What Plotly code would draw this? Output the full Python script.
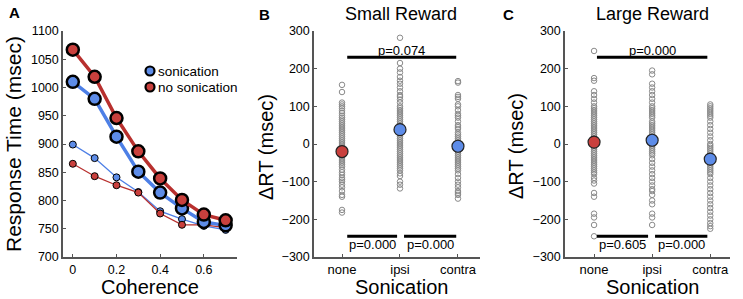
import plotly.graph_objects as go

FONT = "Liberation Sans, Arial, Helvetica, sans-serif"
RED = "#b8302e"
RED_FILL = "#c9403d"
BLUE = "#4d7fe6"
BLUE_FILL = "#5d8ce8"
GRAY = "#8a8a8a"
AX = "#555555"

# ---------------- Panel A data ----------------
coherence = [0, 0.1, 0.2, 0.3, 0.4, 0.5, 0.6, 0.7]
son_large = [1010, 980, 913, 851, 814, 786, 762, 756]
noson_large = [1067, 1019, 946, 887, 839, 801, 775, 765]
son_small = [899, 875, 841, 815, 781, 767, 755, 748]
noson_small = [865, 843, 827, 814, 777, 757, 757, 752]
legend_labels = ["sonication", "no sonication"]

# ---------------- Panels B / C data ----------------
categories = ["none", "ipsi", "contra"]
cat_pos = [1, 2, 3]

small_none = [157, 138, 110, 105, 100, 95, 88, 82, 75, 70, 65, 60, 55, 50, 45, 40, 35, 30, 25, 20,
              15, 10, 5, 0, -5, -10, -15, -20, -25, -30, -35, -40, -45, -50, -55, -60, -68, -75,
              -82, -90, -95, -100, -108, -115, -125, -135, -140, -175, -182]
small_ipsi = [282, 215, 200, 190, 178, 168, 160, 150, 140, 130, 125, 118, 110, 100, 95, 90, 85, 80,
              75, 70, 65, 60, 55, 50, 45, 40, 35, 30, 25, 20, 15, 10, 5, 0, -5, -10, -15, -20, -25,
              -30, -35, -40, -45, -50, -55, -60, -65, -70, -78, -85, -100, -108, -118]
small_contra = [167, 163, 130, 125, 120, 105, 100, 90, 80, 75, 70, 60, 50, 45, 40, 30, 25, 20, 15,
                10, 5, 0, -5, -10, -15, -20, -25, -30, -35, -40, -45, -50, -55, -60, -65, -70, -80,
                -90, -100, -108, -115, -125, -130, -135, -145]
small_means = [-20, 38, -6]

large_none = [247, 175, 168, 140, 130, 120, 110, 100, 95, 90, 85, 80, 75, 70, 65, 60, 55, 50, 45,
              40, 35, 30, 25, 20, 15, 10, 5, 0, -5, -10, -15, -20, -25, -30, -35, -40, -45, -50,
              -55, -60, -65, -70, -75, -80, -90, -97, -105, -130, -140, -185, -195, -215, -245]
large_ipsi = [195, 185, 160, 150, 140, 130, 120, 110, 100, 95, 90, 85, 80, 75, 70, 60, 55, 50, 45,
              40, 35, 30, 25, 20, 15, 10, 5, 0, -5, -10, -15, -20, -25, -30, -40, -50, -60, -70,
              -80, -90, -100, -110, -120, -125, -135, -150, -160, -185, -195, -215]
large_contra = [105, 100, 95, 90, 85, 80, 75, 70, 60, 50, 40, 30, 20, 10, 0, -5, -10, -15, -20,
                -25, -30, -35, -40, -45, -50, -55, -60, -65, -70, -75, -80, -90, -100, -110, -120,
                -130, -140, -150, -160, -170, -180, -190, -200, -210, -218, -225]
large_means = [5, 10, -40]
mean_colors = [RED_FILL, BLUE_FILL, BLUE_FILL]

# significance: (x0, x1, y, label, side)
small_sig = [(1.09, 2.97, 230, "p=0.074", "top"), (1.09, 1.95, -245, "p=0.000", "bottom"),
             (2.07, 2.97, -245, "p=0.000", "bottom")]
large_sig = [(1.05, 2.95, 230, "p=0.000", "top"), (1.05, 1.93, -245, "p=0.605", "bottom"),
             (2.05, 2.95, -245, "p=0.000", "bottom")]

W, H = 743, 299
def px(x):
    return x / W
def py(y):
    return 1 - y / H

fig = go.Figure()

# Panel A traces
fig.add_trace(go.Scatter(x=coherence, y=son_small, mode="lines+markers", showlegend=False,
                         line=dict(color=BLUE, width=1.3),
                         marker=dict(size=7, color=BLUE_FILL, line=dict(color="black", width=1)),
                         xaxis="x", yaxis="y"))
fig.add_trace(go.Scatter(x=coherence, y=noson_small, mode="lines+markers", showlegend=False,
                         line=dict(color=RED, width=1.3),
                         marker=dict(size=7, color=RED_FILL, line=dict(color="black", width=1)),
                         xaxis="x", yaxis="y"))
fig.add_trace(go.Scatter(x=coherence, y=son_large, mode="lines+markers", showlegend=False,
                         line=dict(color=BLUE, width=3.5),
                         marker=dict(size=12, color=BLUE_FILL, line=dict(color="black", width=2.5)),
                         xaxis="x", yaxis="y"))
fig.add_trace(go.Scatter(x=coherence, y=noson_large, mode="lines+markers", showlegend=False,
                         line=dict(color=RED, width=3.5),
                         marker=dict(size=12, color=RED_FILL, line=dict(color="black", width=2.5)),
                         xaxis="x", yaxis="y"))

# legend drawn as decorations (marker right next to text, MATLAB style)
for i, (lab, col) in enumerate(zip(legend_labels, [BLUE_FILL, RED_FILL])):
    cy = 71 + 16 * i
    fig.add_shape(type="circle", xref="paper", yref="paper",
                  x0=px(145.5), x1=px(154.5), y0=py(cy + 4.5), y1=py(cy - 4.5),
                  fillcolor=col, line=dict(color="black", width=2.2))
    fig.add_annotation(x=px(156), y=py(cy), xref="paper", yref="paper", text=lab,
                       showarrow=False, xanchor="left", yanchor="middle",
                       font=dict(size=13.5, family=FONT, color="black"))

def add_panel(xa, ya, groups, means, sigs):
    for pos, vals in zip(cat_pos, groups):
        fig.add_trace(go.Scatter(x=[pos] * len(vals), y=vals, mode="markers", showlegend=False,
                                 marker=dict(size=5.5, color="rgba(0,0,0,0)",
                                             line=dict(color=GRAY, width=1)),
                                 xaxis=xa, yaxis=ya))
    fig.add_trace(go.Scatter(x=cat_pos, y=means, mode="markers", showlegend=False,
                             marker=dict(size=12, color=mean_colors,
                                         line=dict(color="#222222", width=1.2)),
                             xaxis=xa, yaxis=ya))
    for x0, x1, yv, lab, where in sigs:
        fig.add_shape(type="line", x0=x0, x1=x1, y0=yv, y1=yv, xref=xa, yref=ya,
                      line=dict(color="black", width=3))
        fig.add_annotation(x=(x0 + x1) / 2, y=yv, xref=xa, yref=ya, text=lab, showarrow=False,
                           yanchor="bottom" if where == "top" else "top",
                           yshift=-3 if where == "top" else 1,
                           font=dict(size=13, color="black", family=FONT))

add_panel("x2", "y2", [small_none, small_ipsi, small_contra], small_means, small_sig)
add_panel("x3", "y3", [large_none, large_ipsi, large_contra], large_means, large_sig)

ydom = [py(257), py(31)]
axis_common = dict(showline=True, linecolor=AX, linewidth=1.5, showgrid=False, zeroline=False,
                   ticks="inside", ticklen=3, tickcolor=AX, automargin=False)
num_font = dict(size=12.5, color="black", family=FONT)
cat_font = dict(size=13, color="black", family=FONT)
dticks = ["\u2212300", "\u2212200", "\u2212100", "0", "100", "200", "300"]

fig.update_layout(
    width=W, height=H, margin=dict(l=0, r=0, t=0, b=0, pad=0, autoexpand=False),
    paper_bgcolor="white", plot_bgcolor="white", showlegend=False,
    font=dict(family=FONT, color="black"),
    xaxis=dict(domain=[px(63), px(237)], range=[-0.045, 0.752], tickvals=[0, 0.2, 0.4, 0.6],
               ticktext=["0", "0.2", "0.4", "0.6"], anchor="y", tickfont=num_font, **axis_common),
    yaxis=dict(domain=ydom, range=[700, 1100], tickvals=list(range(700, 1101, 50)),
               anchor="x", tickfont=num_font, **axis_common),
    xaxis2=dict(domain=[px(314), px(480)], range=[0.517, 3.38], tickvals=cat_pos,
                ticktext=categories, anchor="y2", tickfont=cat_font, **axis_common),
    yaxis2=dict(domain=ydom, range=[-300, 300], tickvals=list(range(-300, 301, 100)),
                ticktext=dticks, anchor="x2", tickfont=num_font, **axis_common),
    xaxis3=dict(domain=[px(565), px(730)], range=[0.5, 3.34], tickvals=cat_pos,
                ticktext=categories, anchor="y3", tickfont=cat_font, **axis_common),
    yaxis3=dict(domain=ydom, range=[-300, 300], tickvals=list(range(-300, 301, 100)),
                ticktext=dticks, anchor="x3", tickfont=num_font, **axis_common),
)

ann = [
    (px(14), py(13), "<b>A</b>", 15, 0),
    (px(264), py(15), "<b>B</b>", 15, 0),
    (px(508), py(15), "<b>C</b>", 15, 0),
    (px(401), py(14), "Small Reward", 18, 0),
    (px(652), py(14), "Large Reward", 18, 0),
    (px(150), py(286.5), "Coherence", 20, 0),
    (px(401), py(286.5), "Sonication", 20, 0),
    (px(652), py(286.5), "Sonication", 20, 0),
    (px(13), py(144), "Response Time (msec)", 21, -90),
    (px(266), py(147), "\u0394RT (msec)", 20, -90),
    (px(516), py(146), "\u0394RT (msec)", 20, -90),
]
for x, y, t, s, a in ann:
    fig.add_annotation(x=x, y=y, xref="paper", yref="paper", text=t, showarrow=False,
                       textangle=a, xanchor="center", yanchor="middle",
                       font=dict(size=s, family=FONT, color="black"))

fig.write_html("out.html", config={"displayModeBar": False},
               post_script="document.body.style.margin='0px';document.body.style.overflow='hidden';")
